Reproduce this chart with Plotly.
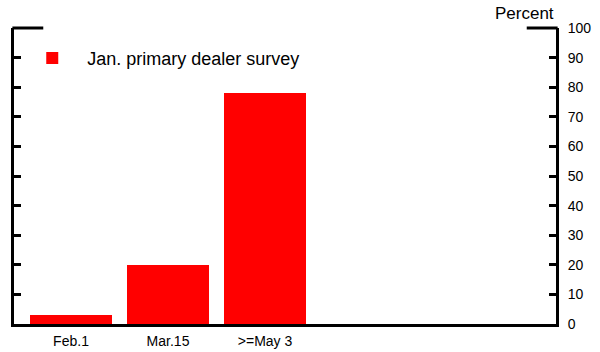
import plotly.graph_objects as go

categories = ["Feb.1", "Mar.15", ">=May 3"]
values = [3, 20, 78]
series_name = "Jan. primary dealer survey"
y_ticks = [0, 10, 20, 30, 40, 50, 60, 70, 80, 90, 100]

FONT = "Liberation Sans, Arial, sans-serif"
RED = "#ff0000"

fig = go.Figure()
fig.add_trace(go.Bar(
    x=categories, y=values, name=series_name,
    marker=dict(color=RED, line=dict(width=0)),
    width=0.845, showlegend=True,
))
fig.add_trace(go.Scatter(x=[categories[0]], y=[0], yaxis="y2", mode="markers",
                         marker=dict(opacity=0), showlegend=False, hoverinfo="skip"))

fig.update_layout(
    width=600, height=352,
    margin=dict(l=14, r=44, t=28, b=28, autoexpand=False),
    paper_bgcolor="white", plot_bgcolor="white",
    font=dict(family=FONT, color="black", size=14),
    xaxis=dict(
        type="category", range=[-0.588, 5.0], automargin=False,
        showline=True, linecolor="black", linewidth=3,
        ticks="", showgrid=False, zeroline=False,
        tickfont=dict(size=14, family=FONT),
        ticklabelstandoff=2,
    ),
    yaxis=dict(
        range=[0, 100], tickvals=y_ticks, showticklabels=False, automargin=False,
        showline=True, linecolor="black", linewidth=3,
        ticks="inside", ticklen=7, tickwidth=3, tickcolor="black",
        showgrid=False, zeroline=False,
    ),
    yaxis2=dict(
        overlaying="y", side="right", range=[0, 100], tickvals=y_ticks, automargin=False,
        showline=True, linecolor="black", linewidth=3,
        ticks="inside", ticklen=7, tickwidth=3, tickcolor="black",
        showgrid=False, zeroline=False,
        tickfont=dict(size=14, family=FONT),
        ticklabelstandoff=6,
    ),
    legend=dict(
        x=0.006, y=0.96, xanchor="left", yanchor="top",
        bgcolor="rgba(0,0,0,0)", font=dict(size=18, family=FONT),
        itemwidth=60,
    ),
    bargap=0,
)

fig.add_shape(type="line", xref="paper", yref="paper", x0=-0.003, x1=0.054, y0=1, y1=1,
              line=dict(color="black", width=3))
fig.add_shape(type="line", xref="paper", yref="paper", x0=0.946, x1=1.003, y0=1, y1=1,
              line=dict(color="black", width=3))

fig.add_annotation(text="Percent", xref="paper", yref="paper", x=1.0, y=1.0,
                   xanchor="right", yanchor="bottom", yshift=3, showarrow=False,
                   font=dict(size=17, family=FONT))

fig.write_html("out.html", config={"displayModeBar": False},
               post_script="document.body.style.margin='0';document.body.style.overflow='hidden';")
